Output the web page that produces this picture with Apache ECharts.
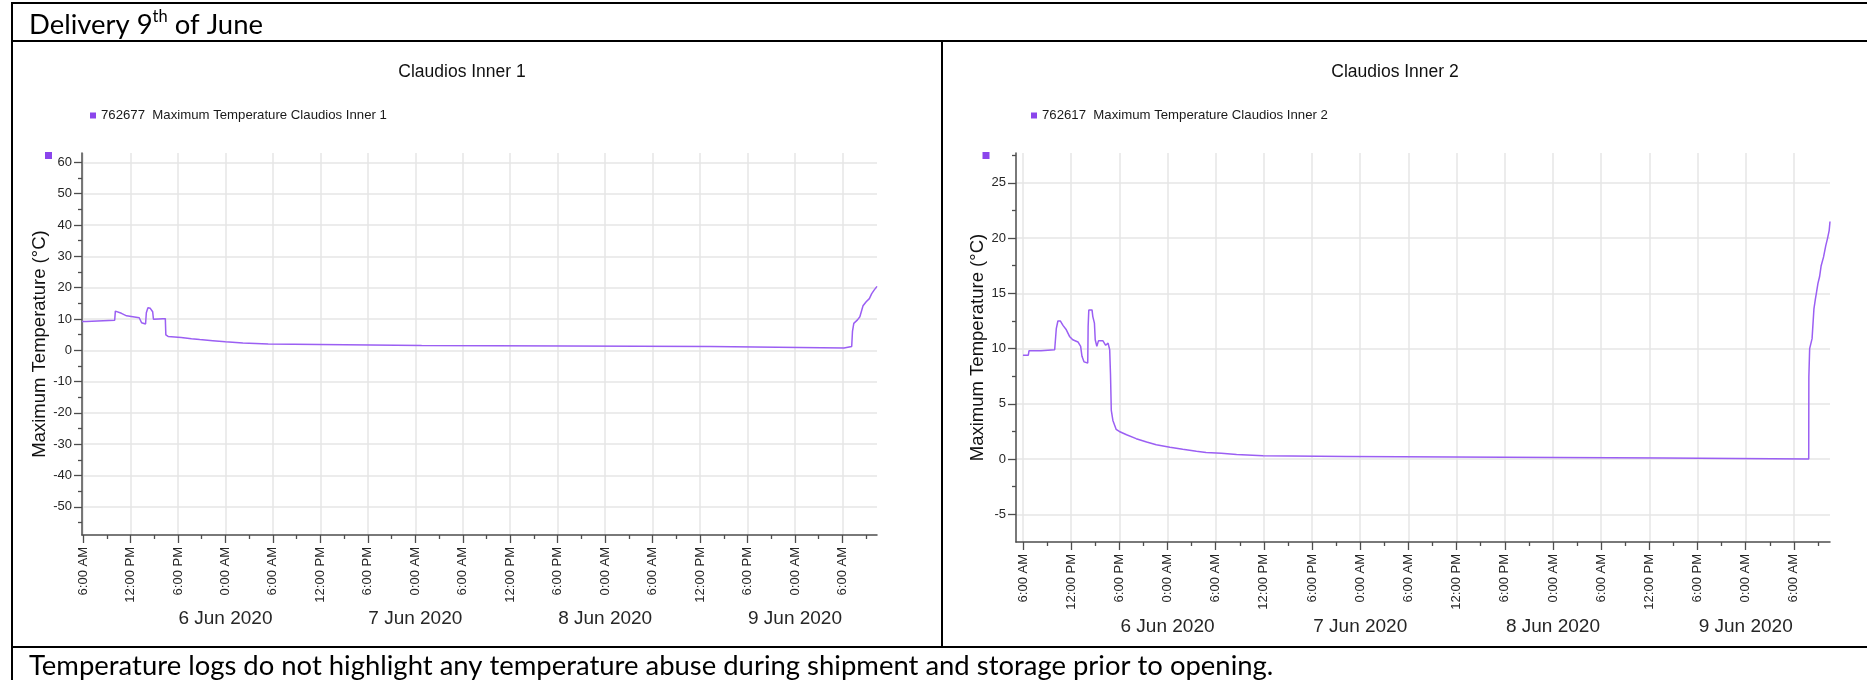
<!DOCTYPE html>
<html>
<head>
<meta charset="utf-8">
<script src="https://cdn.jsdelivr.net/npm/echarts@6/dist/echarts.min.js"></script>
<style>
html,body{margin:0;padding:0;background:#fff;}
#c{width:1867px;height:680px;}
</style>
</head>
<body>
<div id="c"></div>
<script>
// ---------------- DATA ----------------
const headerMain1 = 'Delivery 9';
const headerSup = 'th';
const headerMain2 = ' of June';
const captionText = 'Temperature logs do not highlight any temperature abuse during shipment and storage prior to opening.';
const title1 = 'Claudios Inner 1';
const title2 = 'Claudios Inner 2';
const legend1 = '762677  Maximum Temperature Claudios Inner 1';
const legend2 = '762617  Maximum Temperature Claudios Inner 2';
const yAxisName = 'Maximum Temperature (\u00B0C)';

const xTickTimes = ['2020-06-05 06:00','2020-06-05 12:00','2020-06-05 18:00','2020-06-06 00:00',
  '2020-06-06 06:00','2020-06-06 12:00','2020-06-06 18:00','2020-06-07 00:00',
  '2020-06-07 06:00','2020-06-07 12:00','2020-06-07 18:00','2020-06-08 00:00',
  '2020-06-08 06:00','2020-06-08 12:00','2020-06-08 18:00','2020-06-09 00:00','2020-06-09 06:00'];
const xTickLabels = ['6:00 AM','12:00 PM','6:00 PM','0:00 AM',
  '6:00 AM','12:00 PM','6:00 PM','0:00 AM',
  '6:00 AM','12:00 PM','6:00 PM','0:00 AM',
  '6:00 AM','12:00 PM','6:00 PM','0:00 AM','6:00 AM'];
const xMinorTimes = ['2020-06-05 09:00','2020-06-05 15:00','2020-06-05 21:00','2020-06-06 03:00',
  '2020-06-06 09:00','2020-06-06 15:00','2020-06-06 21:00','2020-06-07 03:00',
  '2020-06-07 09:00','2020-06-07 15:00','2020-06-07 21:00','2020-06-08 03:00',
  '2020-06-08 09:00','2020-06-08 15:00','2020-06-08 21:00','2020-06-09 03:00','2020-06-09 09:00'];
const dateTickTimes = ['2020-06-06 00:00','2020-06-07 00:00','2020-06-08 00:00','2020-06-09 00:00'];
const dateLabels = ['6 Jun 2020','7 Jun 2020','8 Jun 2020','9 Jun 2020'];

const xRange1 = ['2020-06-05 05:52','2020-06-09 10:22'];
const xRange2 = ['2020-06-05 05:08','2020-06-09 10:30'];
const yRange1 = [-59, 63];
const yRange2 = [-7.5, 27.7];
const yTicks1 = [-50,-40,-30,-20,-10,0,10,20,30,40,50,60];
const yMinor1 = [-55,-45,-35,-25,-15,-5,5,15,25,35,45,55];
const yTicks2 = [-5,0,5,10,15,20,25];
const yMinor2 = [-2.5,2.5,7.5,12.5,17.5,22.5,27.5];

const times1 = ['2020-06-05 05:52','2020-06-05 06:24','2020-06-05 06:30','2020-06-05 10:00','2020-06-05 10:05',
  '2020-06-05 10:12','2020-06-05 10:51','2020-06-05 11:30','2020-06-05 12:18','2020-06-05 13:06',
  '2020-06-05 13:24','2020-06-05 13:54','2020-06-05 14:00','2020-06-05 14:12','2020-06-05 14:30',
  '2020-06-05 14:48','2020-06-05 14:54','2020-06-05 16:06','2020-06-05 16:24','2020-06-05 16:28',
  '2020-06-05 16:45','2020-06-05 18:24','2020-06-05 19:42','2020-06-05 20:45','2020-06-05 22:24',
  '2020-06-06 00:00','2020-06-06 02:12','2020-06-06 05:24','2020-06-06 05:36','2020-06-07 00:48',
  '2020-06-07 00:54','2020-06-08 13:18','2020-06-08 13:24','2020-06-09 06:12','2020-06-09 06:18',
  '2020-06-09 07:10','2020-06-09 07:16','2020-06-09 07:26','2020-06-09 07:54','2020-06-09 08:12',
  '2020-06-09 08:24','2020-06-09 08:36','2020-06-09 09:00','2020-06-09 09:24','2020-06-09 09:42',
  '2020-06-09 10:00','2020-06-09 10:22'];
const temps1 = [9.2,9.2,9.6,9.6,12.5,
  12.8,11.8,11.0,10.7,10.4,
  8.8,8.4,12.0,13.6,13.4,
  12.3,9.9,10.1,10.1,4.9,
  4.4,4.1,3.7,3.4,3.05,
  2.7,2.3,2.0,1.5,1.5,
  1.2,1.2,0.7,0.7,1.2,
  1.2,6.0,8.6,9.7,10.7,
  11.3,14.2,15.5,16.5,18.1,
  19.2,20.4];

const times2 = ['2020-06-05 06:00','2020-06-05 06:40','2020-06-05 06:45','2020-06-05 08:15','2020-06-05 08:18',
  '2020-06-05 09:57','2020-06-05 10:04','2020-06-05 10:09','2020-06-05 10:21','2020-06-05 10:39',
  '2020-06-05 10:59','2020-06-05 11:24','2020-06-05 11:48','2020-06-05 12:12','2020-06-05 12:51',
  '2020-06-05 13:04','2020-06-05 13:11','2020-06-05 13:21','2020-06-05 13:36','2020-06-05 13:48',
  '2020-06-05 14:04','2020-06-05 14:07','2020-06-05 14:12','2020-06-05 14:36','2020-06-05 14:42',
  '2020-06-05 14:54','2020-06-05 15:00','2020-06-05 15:12','2020-06-05 15:24','2020-06-05 15:58',
  '2020-06-05 16:18','2020-06-05 16:36','2020-06-05 16:48','2020-06-05 16:54','2020-06-05 17:00',
  '2020-06-05 17:12','2020-06-05 17:36','2020-06-05 18:00','2020-06-05 18:54','2020-06-05 20:06',
  '2020-06-05 21:24','2020-06-05 22:36','2020-06-06 00:18','2020-06-06 01:54','2020-06-06 03:36',
  '2020-06-06 04:48','2020-06-06 06:42','2020-06-06 08:36','2020-06-06 11:54','2020-06-06 22:18',
  '2020-06-06 22:24','2020-06-08 13:42','2020-06-08 13:48','2020-06-09 07:51','2020-06-09 07:52',
  '2020-06-09 07:58','2020-06-09 08:16','2020-06-09 08:28','2020-06-09 08:30','2020-06-09 08:41',
  '2020-06-09 08:48','2020-06-09 09:00','2020-06-09 09:12','2020-06-09 09:24','2020-06-09 09:42',
  '2020-06-09 09:58','2020-06-09 10:12','2020-06-09 10:24','2020-06-09 10:30'];
const temps2 = [9.4,9.4,9.8,9.8,9.9,
  9.9,9.8,11.8,12.5,12.5,
  12.1,11.7,11.1,10.8,10.6,
  10.5,10.2,9.3,8.8,8.7,
  8.7,12.0,13.5,13.5,12.9,
  12.3,10.8,10.2,10.7,10.7,
  10.3,10.5,9.9,7.7,4.4,
  3.5,2.7,2.5,2.2,1.85,
  1.55,1.3,1.08,0.9,0.72,
  0.6,0.54,0.42,0.3,0.24,
  0.1,0.1,0.0,0.0,7.4,
  10.0,10.9,11.0,13.6,14.5,
  15.0,15.9,16.5,17.5,18.3,
  19.3,20.0,20.7,21.5];

// ---------------- BUILD ----------------
const T = s => Date.parse(s.replace(' ', 'T') + ':00Z');
const xTickMs = xTickTimes.map(T);
const xMinorMs = xMinorTimes.map(T);
const dateMs = dateTickTimes.map(T);

const AXIS_FONT = "'Liberation Sans', Arial, sans-serif";
const DOC_FONT = "Lato, Carlito, Calibri, sans-serif";
const AXIS_COLOR = '#4d4d4d';
const LABEL_COLOR = '#262626';
const GRID_COLOR = '#e6e6e6';
const LINE_COLOR = '#9b5ff3';
const MARK_COLOR = '#8b45ec';

// fit document font to caption width
const cv = document.createElement('canvas').getContext('2d');
cv.font = '100px ' + DOC_FONT;
let docFs = 100 * 1245 / cv.measureText(captionText).width;
if (!(docFs > 15 && docFs < 32)) docFs = 23.5;

function lookup(list, labels) {
  return v => { for (let i = 0; i < list.length; i++) { if (Math.abs(list[i] - v) < 1000) return labels[i]; } return ''; };
}

function mainX(gi, range) {
  return {
    type: 'value', gridIndex: gi, position: 'bottom',
    min: T(range[0]), max: T(range[1]), scale: true,
    axisLine: { show: true, onZero: false, lineStyle: { color: AXIS_COLOR, width: 1.5 } },
    axisTick: { show: true, customValues: xTickMs, length: 8, lineStyle: { color: AXIS_COLOR, width: 1.3 } },
    axisLabel: {
      show: true, customValues: xTickMs, rotate: 90, margin: 12, hideOverlap: false,
      fontSize: 13, fontFamily: AXIS_FONT, color: LABEL_COLOR,
      formatter: lookup(xTickMs, xTickLabels)
    },
    splitLine: { show: true, lineStyle: { color: GRID_COLOR, width: 1.5 } },
    minorTick: { show: false }, minorSplitLine: { show: false }
  };
}
function auxX(gi, range, dateMargin) {
  return {
    type: 'value', gridIndex: gi, position: 'bottom',
    min: T(range[0]), max: T(range[1]), scale: true,
    axisLine: { show: false, onZero: false },
    axisTick: { show: true, customValues: xMinorMs, length: 4, lineStyle: { color: AXIS_COLOR, width: 1.3 } },
    axisLabel: {
      show: true, customValues: dateMs, rotate: 0, margin: dateMargin, hideOverlap: false,
      fontSize: 19, fontFamily: AXIS_FONT, color: LABEL_COLOR,
      formatter: lookup(dateMs, dateLabels)
    },
    splitLine: { show: false }, minorTick: { show: false }, minorSplitLine: { show: false }
  };
}
function mainY(gi, range, ticks, nameGap) {
  return {
    type: 'value', gridIndex: gi, position: 'left',
    min: range[0], max: range[1],
    axisLine: { show: true, onZero: false, lineStyle: { color: AXIS_COLOR, width: 1.5 } },
    axisTick: { show: true, customValues: ticks, length: 8, lineStyle: { color: AXIS_COLOR, width: 1.3 } },
    axisLabel: { show: true, customValues: ticks, margin: 10, fontSize: 13, fontFamily: AXIS_FONT, color: LABEL_COLOR, hideOverlap: false },
    splitLine: { show: true, lineStyle: { color: GRID_COLOR, width: 1.5 } },
    name: yAxisName, nameLocation: 'middle', nameGap: nameGap,
    nameTextStyle: { fontSize: 18.5, fontFamily: AXIS_FONT, color: '#111' }
  };
}
function auxY(gi, range, minor) {
  return {
    type: 'value', gridIndex: gi, position: 'left', offset: 0,
    min: range[0], max: range[1],
    axisLine: { show: false, onZero: false },
    axisTick: { show: true, customValues: minor, length: 4, lineStyle: { color: AXIS_COLOR, width: 1.3 } },
    axisLabel: { show: false },
    splitLine: { show: false }
  };
}

const data1 = times1.map((t, i) => [T(t), temps1[i]]);
const data2 = times2.map((t, i) => [T(t), temps2[i]]);

function legendCfg(name, left) {
  return {
    data: [name], left: left, top: 109, padding: 0, icon: 'rect', itemWidth: 6, itemHeight: 6,
    selectedMode: false, itemStyle: { color: MARK_COLOR },
    textStyle: { fontSize: 13.2, fontFamily: AXIS_FONT, color: '#1a1a1a' }
  };
}

function hline(x, y, w) { return { type: 'rect', silent: true, shape: { x: x, y: y, width: w, height: 2 }, style: { fill: '#000' } }; }
function vline(x, y, h) { return { type: 'rect', silent: true, shape: { x: x, y: y, width: 2, height: h }, style: { fill: '#000' } }; }

const option = {
  animation: false,
  backgroundColor: '#fff',
  grid: [
    { left: 82, top: 153, width: 795, height: 382, containLabel: false, outerBoundsMode: 'none' },
    { left: 1016, top: 153, width: 814, height: 389, containLabel: false, outerBoundsMode: 'none' }
  ],
  xAxis: [mainX(0, xRange1), auxX(0, xRange1, 74), mainX(1, xRange2), auxX(1, xRange2, 75)],
  yAxis: [mainY(0, yRange1, yTicks1, 27), auxY(0, yRange1, yMinor1), mainY(1, yRange2, yTicks2, 24), auxY(1, yRange2, yMinor2)],
  legend: [legendCfg(legend1, 90), legendCfg(legend2, 1031)],
  series: [
    { name: legend1, type: 'line', xAxisIndex: 0, yAxisIndex: 0, data: data1, showSymbol: false, symbol: 'none',
      lineStyle: { color: LINE_COLOR, width: 1.5 }, itemStyle: { color: MARK_COLOR }, silent: true },
    { name: legend2, type: 'line', xAxisIndex: 2, yAxisIndex: 2, data: data2, showSymbol: false, symbol: 'none',
      lineStyle: { color: LINE_COLOR, width: 1.5 }, itemStyle: { color: MARK_COLOR }, silent: true }
  ],
  graphic: [
    hline(11, 2, 1856),
    hline(11, 40, 1856),
    hline(11, 646, 1856),
    vline(11, 2, 678),
    vline(941, 40, 608),
    {
      type: 'text', silent: true, x: 29, y: 9,
      style: {
        text: '{a|' + headerMain1 + '}{s|' + headerSup + '}{a|' + headerMain2 + '}',
        verticalAlign: 'top', align: 'left',
        rich: {
          a: { fontFamily: DOC_FONT, fontSize: docFs, lineHeight: 30, verticalAlign: 'bottom', fill: '#000' },
          s: { fontFamily: DOC_FONT, fontSize: docFs * 0.6, lineHeight: 24, verticalAlign: 'top', fill: '#000' }
        }
      }
    },
    {
      type: 'text', silent: true, x: 29, y: 666,
      style: { text: captionText, fontFamily: DOC_FONT, fontSize: docFs, fill: '#000', verticalAlign: 'middle', align: 'left' }
    },
    { type: 'text', silent: true, x: 462, y: 72,
      style: { text: title1, fontFamily: AXIS_FONT, fontSize: 17.5, fill: '#111', align: 'center', verticalAlign: 'middle' } },
    { type: 'text', silent: true, x: 1395, y: 72,
      style: { text: title2, fontFamily: AXIS_FONT, fontSize: 17.5, fill: '#111', align: 'center', verticalAlign: 'middle' } },
    { type: 'rect', silent: true, shape: { x: 45, y: 152, width: 7, height: 7 }, style: { fill: MARK_COLOR } },
    { type: 'rect', silent: true, shape: { x: 982.5, y: 152, width: 7, height: 7 }, style: { fill: MARK_COLOR } }
  ]
};

const chart = echarts.init(document.getElementById('c'), null, { renderer: 'canvas' });
chart.setOption(option);
</script>
</body>
</html>
